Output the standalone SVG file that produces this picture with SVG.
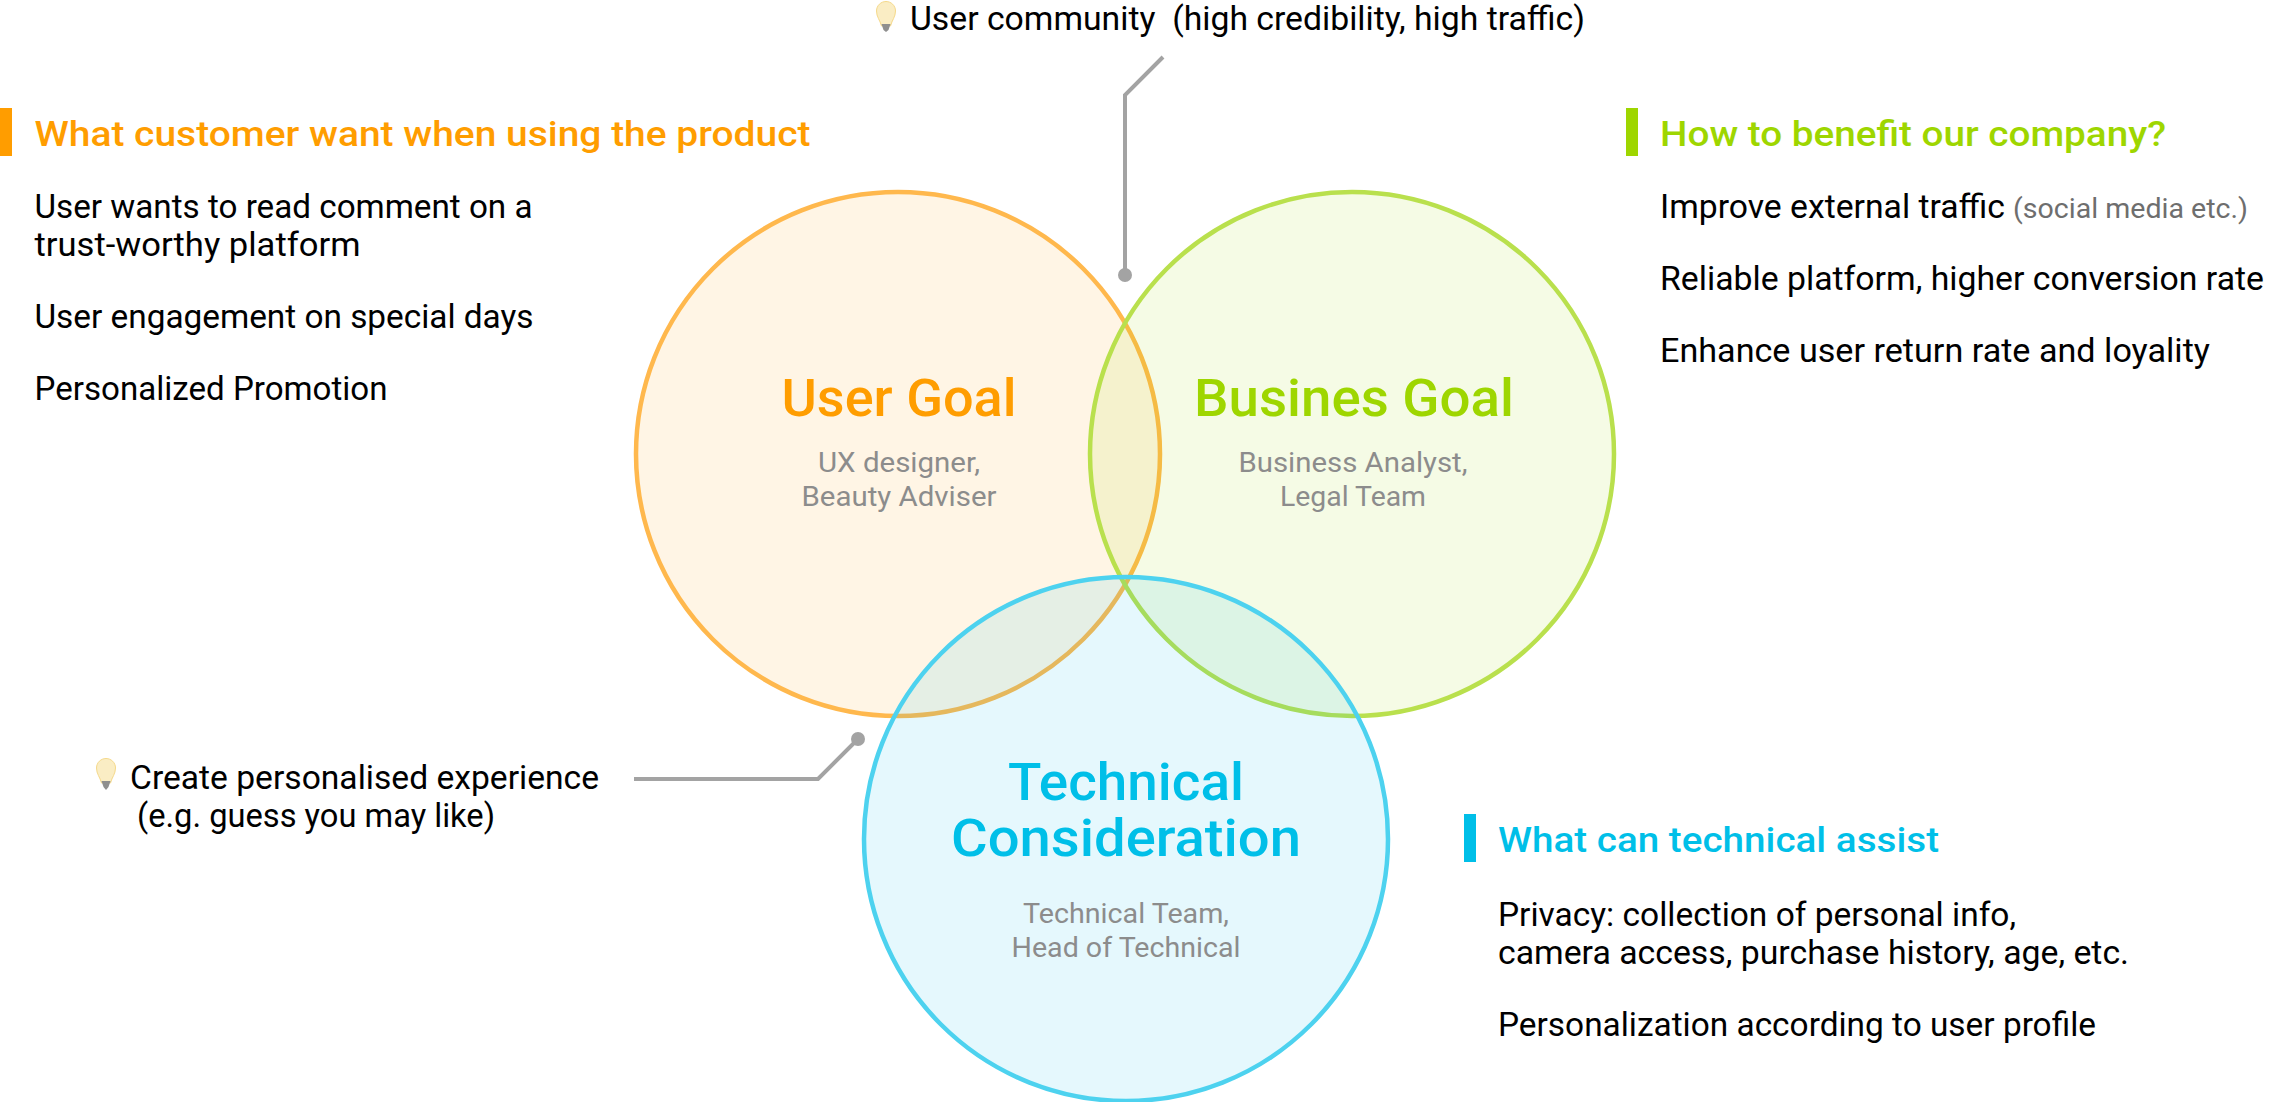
<svg xmlns="http://www.w3.org/2000/svg" width="2284" height="1102" viewBox="0 0 2284 1102">
<style>
text{font-family:Roboto,"Open Sans",sans-serif;}
.b{font-size:32.5px;fill:#000;}
.h{font-size:35px;font-weight:500;}
.t{font-size:51px;font-weight:500;text-anchor:middle;}
.s{font-size:28px;fill:#8c8c8c;text-anchor:middle;}
.o{fill:#ff9d00;}.g{fill:#9ed600;}.c{fill:#00bfe8;}
.link{fill:none;stroke:#a3a3a3;stroke-width:4;}
.dot{fill:#a3a3a3;}
.bulb{fill:#faedc4;stroke:#f5d98a;stroke-width:1;}
.base{fill:#8f8f8f;}
</style>
<rect width="2284" height="1102" fill="#fff"/>
<g id="user-goal">
<circle cx="898" cy="454" r="262" fill="#ff9d00" fill-opacity=".1" stroke="#ffb84d" stroke-width="4.5"/>
<text class="t o" x="899" y="416" textLength="235" lengthAdjust="spacingAndGlyphs">User Goal</text>
<text class="s" x="899" y="472" textLength="162" lengthAdjust="spacingAndGlyphs">UX designer,</text>
<text class="s" x="899" y="506" textLength="195" lengthAdjust="spacingAndGlyphs">Beauty Adviser</text>
</g>
<g id="business-goal">
<circle cx="1352" cy="454" r="262" fill="#9ed600" fill-opacity=".1" stroke="#b9e04d" stroke-width="4.5"/>
<text class="t g" x="1354" y="416" textLength="320" lengthAdjust="spacingAndGlyphs">Busines Goal</text>
<text class="s" x="1353" y="472" textLength="229" lengthAdjust="spacingAndGlyphs">Business Analyst,</text>
<text class="s" x="1353" y="506" textLength="146" lengthAdjust="spacingAndGlyphs">Legal Team</text>
</g>
<g id="technical">
<circle cx="1126" cy="839" r="262" fill="#00bfe8" fill-opacity=".1" stroke="#4dd2ef" stroke-width="4.5"/>
<text class="t c" x="1126" y="800" textLength="236" lengthAdjust="spacingAndGlyphs">Technical</text>
<text class="t c" x="1126" y="856" textLength="350" lengthAdjust="spacingAndGlyphs">Consideration</text>
<text class="s" x="1126" y="923" textLength="206" lengthAdjust="spacingAndGlyphs">Technical Team,</text>
<text class="s" x="1126" y="957" textLength="229" lengthAdjust="spacingAndGlyphs">Head of Technical</text>
</g>
<g id="connectors">
<path class="link" d="M1163 57L1125 95V275"/>
<circle class="dot" cx="1125" cy="275" r="7"/>
<path class="link" d="M634 779H818L858 739"/>
<circle class="dot" cx="858" cy="739" r="7"/>
</g>
<g id="note-community">
<path class="bulb" d="M886 1.5c5 0 9.500 4 9.500 9.500c0 6-3.500 9-5 15h-9c-1.500-6-5-9-5-15c0-5.500 4.500-9.500 9.500-9.500z"/>
<path class="base" d="M881.500 24h9l-2 6l-2.500 2l-2.500-2z"/>
<text class="b" x="910" y="30" textLength="675" lengthAdjust="spacingAndGlyphs" xml:space="preserve">User community  (high credibility, high traffic)</text>
</g>
<g id="note-personal">
<path class="bulb" d="M106 758.500c5 0 9.500 4 9.500 9.500c0 6-3.500 9-5 15h-9c-1.500-6-5-9-5-15c0-5.500 4.500-9.500 9.500-9.500z"/>
<path class="base" d="M101.500 781h9l-2 6l-2.500 3l-2.500-3z"/>
<text class="b" x="130" y="789" textLength="469" lengthAdjust="spacingAndGlyphs">Create personalised experience</text>
<text class="b" x="137" y="827" textLength="358" lengthAdjust="spacingAndGlyphs">(e.g. guess you may like)</text>
</g>
<g id="panel-customer">
<rect x="0" y="108" width="12" height="48" fill="#ff9d00"/>
<text class="h o" x="34.500" y="146" textLength="776" lengthAdjust="spacingAndGlyphs">What customer want when using the product</text>
<text class="b" x="34.500" y="218" textLength="498" lengthAdjust="spacingAndGlyphs">User wants to read comment on a</text>
<text class="b" x="34.500" y="256" textLength="326" lengthAdjust="spacingAndGlyphs">trust-worthy platform</text>
<text class="b" x="34.500" y="328" textLength="499" lengthAdjust="spacingAndGlyphs">User engagement on special days</text>
<text class="b" x="34.500" y="400" textLength="353" lengthAdjust="spacingAndGlyphs">Personalized Promotion</text>
</g>
<g id="panel-company">
<rect x="1626" y="108" width="12" height="48" fill="#9ed600"/>
<text class="h g" x="1660" y="146" textLength="506" lengthAdjust="spacingAndGlyphs">How to benefit our company?</text>
<text class="b" x="1660" y="218" textLength="345" lengthAdjust="spacingAndGlyphs">Improve external traffic</text>
<text x="2013" y="218" font-size="28" fill="#6e6e6e" textLength="235" lengthAdjust="spacingAndGlyphs">(social media etc.)</text>
<text class="b" x="1660" y="290" textLength="604" lengthAdjust="spacingAndGlyphs">Reliable platform, higher conversion rate</text>
<text class="b" x="1660" y="362" textLength="550" lengthAdjust="spacingAndGlyphs">Enhance user return rate and loyality</text>
</g>
<g id="panel-technical">
<rect x="1464" y="814" width="12" height="48" fill="#00bfe8"/>
<text class="h c" x="1498" y="852" textLength="441" lengthAdjust="spacingAndGlyphs">What can technical assist</text>
<text class="b" x="1498" y="926" textLength="518" lengthAdjust="spacingAndGlyphs">Privacy: collection of personal info,</text>
<text class="b" x="1498" y="964" textLength="631" lengthAdjust="spacingAndGlyphs">camera access, purchase history, age, etc.</text>
<text class="b" x="1498" y="1036" textLength="598" lengthAdjust="spacingAndGlyphs">Personalization according to user profile</text>
</g>
</svg>
